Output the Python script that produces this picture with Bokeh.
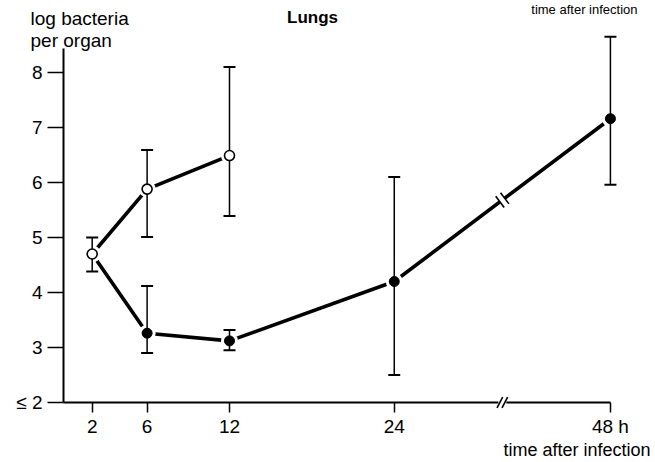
import numpy as np
from bokeh.plotting import figure
from bokeh.models import Range1d, FixedTicker, Label
from bokeh.embed import file_html
from bokeh.resources import INLINE

# ---------------- data ----------------
hours_open = [2, 6, 12]
mean_open = [4.7, 5.88, 6.49]
low_open = [4.38, 5.01, 5.39]
high_open = [5.0, 6.59, 8.1]

hours_filled = [2, 6, 12, 24, 48]
mean_filled = [4.7, 3.26, 3.12, 4.2, 7.16]
err_hours_filled = [6, 12, 24, 48]
low_filled = [2.90, 2.95, 2.5, 5.96]
high_filled = [4.12, 3.32, 6.1, 8.65]

x_ticks = [2, 6, 12, 24, 48]
x_tick_labels = ["2", "6", "12", "24", "48 h"]
y_ticks = [2, 3, 4, 5, 6, 7, 8]
y_tick_labels = ["≤ 2", "3", "4", "5", "6", "7", "8"]

# ---------------- axis break (24 h .. 48 h compressed) ----------------
BREAK_START = 24
COMPRESS = 0.656


def pos(h):
    h = np.asarray(h, dtype=float)
    return np.where(h <= BREAK_START, h, BREAK_START + (h - BREAK_START) * COMPRESS)


# ---------------- layout: frame = whole canvas, axes at fixed locations ----------------
W, H = 655, 462
PX = 13.73          # pixels per hour
PY = 55.0           # pixels per log unit
AXIS_X_PX = 63      # canvas x of the y axis
AXIS_Y_PX = 402     # canvas y (from top) of the x axis
X_AXIS_START = -0.09
Y_AXIS_START = 2.0
Y_AXIS_TOP = 8.43

XS = X_AXIS_START - AXIS_X_PX / PX
XE = XS + W / PX
YS = Y_AXIS_START - (H - AXIS_Y_PX) / PY
YE = YS + H / PY

FONT = "Liberation Sans"

p = figure(width=W, height=H, output_backend="svg", toolbar_location=None,
           title_location=None,
           x_range=Range1d(XS, XE), y_range=Range1d(YS, YE),
           min_border=0, min_border_left=0, min_border_right=0,
           min_border_top=0, min_border_bottom=0)
p.grid.visible = False
p.outline_line_color = None
p.background_fill_color = "white"
p.border_fill_color = "white"


def to_data(cx, cy):
    """canvas pixel (y from top) -> data coordinates"""
    return XS + cx / PX, YS + (H - cy) / PY


def to_px(xd, yd):
    return (xd - XS) * PX, H - (yd - YS) * PY


# x axis
xa = p.xaxis[0]
xa.fixed_location = Y_AXIS_START
xa.bounds = (X_AXIS_START, float(pos(48)))
xa.ticker = FixedTicker(ticks=[float(v) for v in pos(x_ticks)])
xa.major_label_overrides = {float(v): lab for v, lab in zip(pos(x_ticks), x_tick_labels)}
xa.major_tick_in = 0
xa.major_tick_out = 10
xa.minor_tick_out = 0
xa.minor_tick_in = 0
xa.axis_line_width = 2
xa.major_tick_line_width = 1.5
xa.major_label_text_font = FONT
xa.major_label_text_font_size = "19px"
xa.major_label_text_color = "black"
xa.major_label_standoff = 3

# y axis
ya = p.yaxis[0]
ya.fixed_location = X_AXIS_START
ya.bounds = (Y_AXIS_START, Y_AXIS_TOP)
ya.ticker = FixedTicker(ticks=y_ticks)
ya.major_label_overrides = {v: lab for v, lab in zip(y_ticks, y_tick_labels)}
ya.major_tick_in = 0
ya.major_tick_out = 16
ya.minor_tick_out = 0
ya.minor_tick_in = 0
ya.axis_line_width = 2
ya.major_tick_line_width = 1.5
ya.major_label_text_font = FONT
ya.major_label_text_font_size = "19px"
ya.major_label_text_color = "black"
ya.major_label_standoff = 5

# ---------------- connecting lines ----------------
LW = 3.6
p.line(pos(hours_open), mean_open, line_color="black", line_width=LW)
p.line(pos(hours_filled), mean_filled, line_color="black", line_width=LW)

# white halos create the gap between lines and markers
all_x = np.concatenate([pos(hours_open), pos(hours_filled)])
all_y = np.concatenate([mean_open, mean_filled])
p.scatter(all_x, all_y, size=17, fill_color="white", line_color=None)

# break mark on the connecting line between 24 h and 48 h
i24, i48 = hours_filled.index(24), hours_filled.index(48)
ax_, ay_ = to_px(float(pos(24)), mean_filled[i24])
bx_, by_ = to_px(float(pos(48)), mean_filled[i48])
mx, my = (ax_ + bx_) / 2, (ay_ + by_) / 2
dx, dy = bx_ - ax_, by_ - ay_
L = np.hypot(dx, dy)
ux, uy = dx / L, dy / L        # along the line
nx, ny = -uy, ux               # normal
GAP = 3.0
HALF = 7.0

g0 = to_data(mx - ux * GAP, my - uy * GAP)
g1 = to_data(mx + ux * GAP, my + uy * GAP)
p.segment(g0[0], g0[1], g1[0], g1[1], line_color="white", line_width=6)
for s in (-GAP, GAP):
    cx, cy = mx + ux * s, my + uy * s
    s0 = to_data(cx - nx * HALF, cy - ny * HALF)
    s1 = to_data(cx + nx * HALF, cy + ny * HALF)
    p.segment(s0[0], s0[1], s1[0], s1[1], line_color="black", line_width=1.6)

# ---------------- error bars ----------------
EB = 1.5
p.segment(pos(hours_open), low_open, pos(hours_open), high_open,
          line_color="black", line_width=EB)
p.segment(pos(err_hours_filled), low_filled, pos(err_hours_filled), high_filled,
          line_color="black", line_width=EB)
cap_x = np.concatenate([pos(hours_open), pos(hours_open),
                        pos(err_hours_filled), pos(err_hours_filled)])
cap_y = np.concatenate([low_open, high_open, low_filled, high_filled])
p.scatter(cap_x, cap_y, marker="dash", size=12, line_color="black", line_width=2)

# ---------------- markers ----------------
p.scatter(pos(hours_filled[1:]), mean_filled[1:], size=10,
          fill_color="black", line_color="black", line_width=1)
p.scatter(pos(hours_open), mean_open, size=10,
          fill_color="white", line_color="black", line_width=1.6)

# ---------------- x-axis break "//" ----------------
bxp = (ax_ + bx_) / 2
ang = np.deg2rad(62)
g0 = to_data(bxp - 4, AXIS_Y_PX)
g1 = to_data(bxp + 4, AXIS_Y_PX)
brk = p.segment(g0[0], g0[1], g1[0], g1[1], line_color="white", line_width=5)
brk.level = "overlay"
for s in (-2.5, 2.5):
    cx = bxp + s
    s0 = to_data(cx - 6 * np.cos(ang), AXIS_Y_PX + 6 * np.sin(ang))
    s1 = to_data(cx + 6 * np.cos(ang), AXIS_Y_PX - 6 * np.sin(ang))
    r = p.segment(s0[0], s0[1], s1[0], s1[1], line_color="black", line_width=1.6)
    r.level = "overlay"


# ---------------- texts (canvas units, y from top) ----------------
def add_text(x, y, text, size="19px", align="left", style="normal", baseline="alphabetic"):
    p.add_layout(Label(x=x, y=y, x_units="canvas", y_units="canvas",
                       text=text, text_font=FONT, text_font_size=size,
                       text_font_style=style, text_align=align,
                       text_baseline=baseline, text_color="black"))


add_text(30, 18, "log bacteria")
add_text(30, 40, "per organ")
add_text(312, 17, "Lungs", size="17px", align="center", style="bold")
add_text(650, 449, "time after infection", size="18px", align="right")
add_text(637, 1, "time after infection", size="13px", align="right", baseline="top")

open("out.html", "w").write(file_html(p, INLINE))
